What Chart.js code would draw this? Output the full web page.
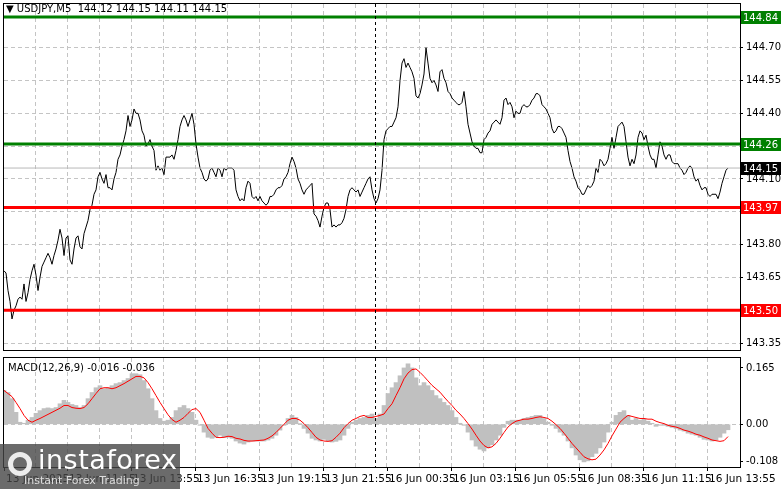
<!DOCTYPE html>
<html>
<head>
<meta charset="utf-8">
<script src="https://cdn.jsdelivr.net/npm/chart.js@4/dist/chart.umd.min.js"></script>
<style>
  html, body { margin: 0; padding: 0; background: #fff; }
  body { width: 781px; height: 489px; position: relative; overflow: hidden; font-family: "DejaVu Sans", sans-serif; }
  #priceBox { position: absolute; left: 0; top: -5px; width: 781px; height: 364px; }
  #macdBox { position: absolute; left: 0; top: 349px; width: 781px; height: 140px; }
  .hdr { position: absolute; font-size: 10px; color: #000; white-space: pre; }
  #logo { position: absolute; left: 0; top: 444px; width: 180px; height: 45px; background: rgba(70,70,70,0.8); color: #fff; }
  #logo .big { position: absolute; left: 38px; top: 0px; font-size: 27px; letter-spacing: 0.5px; }
  #logo .small { position: absolute; left: 24px; top: 30px; font-size: 11px; color: #ddd; }
  #logo .gear { position: absolute; left: 8px; top: 8px; width: 24px; height: 24px; border: 5px solid #eee; border-radius: 50%; box-sizing: border-box; }
</style>
</head>
<body>
<div id="priceBox"><canvas id="price"></canvas></div>
<div id="macdBox"><canvas id="macd"></canvas></div>
<div class="hdr" style="left:6px;top:3px;">▼ USDJPY,M5  144.12 144.15 144.11 144.15</div>
<div class="hdr" style="left:8px;top:362px;">MACD(12,26,9) -0.016 -0.036</div>
<div id="logo"><div class="gear"></div><div class="big">instaforex</div><div class="small">Instant Forex Trading</div></div>
<script>
// USDJPY M5 closes, one value per bar
const closes = [
  143.68,143.67,143.59,143.54,143.46,143.50,143.52,143.55,143.56,143.55,
  143.62,143.54,143.58,143.64,143.68,143.71,143.66,143.59,143.65,143.70,
  143.72,143.74,143.76,143.74,143.71,143.75,143.78,143.82,143.87,143.83,
  143.75,143.83,143.84,143.73,143.71,143.78,143.83,143.84,143.79,143.78,
  143.85,143.88,143.91,143.96,143.98,144.03,144.05,144.11,144.13,144.10,
  144.08,144.12,144.06,144.06,144.05,144.10,144.13,144.19,144.21,144.25,
  144.28,144.32,144.39,144.34,144.37,144.42,144.40,144.40,144.37,144.32,
  144.30,144.25,144.26,144.28,144.25,144.23,144.14,144.16,144.14,144.15,
  144.12,144.20,144.20,144.20,144.21,144.19,144.23,144.28,144.34,144.37,
  144.39,144.37,144.34,144.37,
  144.40,144.35,144.26,144.20,144.15,144.13,144.10,144.09,144.10,144.14,
  144.15,144.13,144.11,144.15,144.14,144.11,144.15,144.14,144.15,144.15,
  144.15,144.14,144.05,144.02,144.00,144.01,144.00,144.06,144.09,144.08,
  144.02,144.01,144.02,144.00,144.02,144.00,143.99,143.98,143.99,144.02,
  144.02,144.03,144.05,144.06,144.06,144.07,144.10,144.11,144.13,144.17,
  144.20,144.18,144.15,144.10,144.08,144.05,144.03,144.05,144.06,144.07,
  144.08,143.94,143.93,143.91,143.88,143.93,143.97,143.99,143.99,143.96,
  143.88,143.89,143.88,143.89,143.89,143.90,143.92,143.96,144.02,144.05,
  144.06,144.05,144.04,144.05,144.02,144.04,144.06,144.08,144.10,144.11,
  144.05,144.01,
  143.99,144.01,144.05,144.14,144.28,144.32,144.33,144.34,144.34,144.36,
  144.38,144.43,144.55,144.63,144.65,144.61,144.63,144.61,144.59,144.56,
  144.48,144.47,144.49,144.53,144.58,144.70,144.63,144.56,144.54,144.55,
  144.53,144.50,144.59,144.60,144.56,144.54,144.50,144.49,144.47,144.46,
  144.45,144.44,144.44,144.45,144.50,144.43,144.35,144.31,144.27,144.25,
  144.24,144.24,144.22,144.22,144.28,144.29,144.31,144.32,144.35,144.36,
  144.37,144.36,144.35,144.38,144.46,144.47,144.44,144.45,144.43,144.38,
  144.41,144.40,144.40,144.43,144.44,144.43,144.43,144.44,144.46,144.47,
  144.49,144.49,144.48,144.44,144.43,144.42,144.40,144.38,144.33,144.31,
  144.32,144.34,
  144.34,144.33,144.31,144.29,144.23,144.18,144.15,144.11,144.09,144.06,
  144.05,144.03,144.03,144.05,144.07,144.06,144.07,144.09,144.15,144.13,
  144.19,144.18,144.16,144.17,144.19,144.24,144.29,144.24,144.29,144.34,
  144.35,144.36,144.34,144.27,144.20,144.16,144.19,144.17,144.21,144.29,
  144.32,144.31,144.28,144.30,144.25,144.21,144.19,144.19,144.15,144.21,
  144.27,144.25,144.21,144.19,144.21,144.21,144.18,144.17,144.17,144.17,
  144.15,144.14,144.12,144.13,144.15,144.16,144.15,144.11,144.09,144.10,
  144.07,144.05,144.06,144.06,144.03,144.02,144.03,144.03,144.03,144.01,
  144.04,144.08,144.11,144.14,144.15
];

// MACD main (histogram) and signal, one value per two bars
const macdHist = [
  0.099,0.093,0.075,0.035,0.006,0.003,0.012,0.020,0.032,0.040,
  0.046,0.048,0.046,0.049,0.060,0.070,0.064,0.058,0.055,0.049,
  0.055,0.075,0.093,0.107,0.113,0.104,0.107,0.113,0.119,0.122,
  0.128,0.134,0.148,0.148,0.145,0.128,0.104,0.075,0.040,0.017,
  0.009,0.012,0.020,0.040,0.049,0.055,0.046,0.035,0.012,-0.003,
  -0.023,-0.038,-0.041,-0.038,-0.032,-0.038,-0.038,-0.041,-0.049,-0.055,
  -0.058,-0.052,-0.049,-0.049,-0.049,-0.049,-0.046,-0.041,-0.032,-0.017,
  -0.003,0.017,0.026,0.020,0.002,-0.012,-0.026,-0.041,-0.046,-0.049,
  -0.044,-0.049,-0.052,-0.050,-0.046,-0.032,-0.012,0.006,0.012,0.017,
  0.020,0.026,0.030,0.017,0.030,0.055,0.090,0.107,0.122,0.142,
  0.165,0.177,0.165,0.136,0.113,0.122,0.113,0.099,0.084,0.075,
  0.064,0.055,0.040,0.020,0.003,-0.003,-0.023,-0.046,-0.064,-0.073,
  -0.078,-0.069,-0.060,-0.046,-0.032,-0.009,0.009,0.012,0.012,0.012,
  0.017,0.020,0.023,0.026,0.026,0.017,0.006,-0.003,-0.012,-0.023,
  -0.032,-0.049,-0.069,-0.090,-0.104,-0.110,-0.107,-0.095,-0.085,-0.069,
  -0.052,-0.023,0.006,0.026,0.035,0.040,0.026,0.012,0.017,0.012,
  0.015,0.009,0.003,-0.006,-0.003,-0.003,-0.006,-0.009,-0.012,-0.017,
  -0.020,-0.026,-0.029,-0.032,-0.038,-0.044,-0.046,-0.049,-0.046,-0.038,
  -0.026,-0.016
];
const macdSignal = [
  0.099,0.090,0.081,0.064,0.046,0.026,0.012,0.006,0.012,0.017,
  0.023,0.029,0.035,0.041,0.047,0.055,0.055,0.049,0.047,0.046,
  0.049,0.060,0.075,0.090,0.104,0.107,0.107,0.104,0.107,0.113,
  0.119,0.126,0.133,0.140,0.140,0.136,0.122,0.104,0.084,0.064,
  0.046,0.028,0.014,0.006,0.012,0.020,0.032,0.043,0.046,0.035,
  0.012,-0.012,-0.026,-0.038,-0.039,-0.038,-0.035,-0.036,-0.041,-0.043,
  -0.047,-0.049,-0.049,-0.048,-0.047,-0.046,-0.041,-0.034,-0.024,-0.012,
  0.000,0.012,0.017,0.017,0.012,0.002,-0.010,-0.024,-0.038,-0.046,
  -0.049,-0.050,-0.048,-0.038,-0.026,-0.010,0.002,0.012,0.017,0.023,
  0.026,0.020,0.020,0.023,0.026,0.030,0.046,0.060,0.084,0.107,
  0.133,0.150,0.160,0.162,0.152,0.140,0.127,0.114,0.104,0.094,
  0.080,0.067,0.055,0.041,0.030,0.017,0.002,-0.014,-0.032,-0.049,
  -0.062,-0.069,-0.066,-0.056,-0.041,-0.024,-0.008,0.002,0.009,0.012,
  0.015,0.015,0.017,0.020,0.022,0.020,0.017,0.009,-0.001,-0.012,
  -0.026,-0.041,-0.056,-0.069,-0.082,-0.095,-0.101,-0.104,-0.102,-0.090,
  -0.075,-0.056,-0.034,-0.014,0.006,0.017,0.026,0.023,0.020,0.017,
  0.017,0.015,0.015,0.009,0.005,0.002,-0.003,-0.006,-0.008,-0.012,
  -0.017,-0.020,-0.024,-0.029,-0.032,-0.037,-0.041,-0.046,-0.048,-0.050,
  -0.048,-0.036
];

const priceTicks = [143.35, 143.50, 143.65, 143.80, 143.95, 144.10, 144.25, 144.40, 144.55, 144.70];
const macdTicks = [-0.108, 0, 0.165];
const levelValues = [144.84, 144.26, 143.97, 143.50];
const levelColors = ['#008000', '#008000', '#ff0000', '#ff0000'];
const lastPrice = 144.15;

const timeLabels = ['13 Jun 2025', '13 Jun 11:15', '13 Jun 13:55', '13 Jun 16:35', '13 Jun 19:15',
  '13 Jun 21:55', '16 Jun 00:35', '16 Jun 03:15', '16 Jun 05:55', '16 Jun 08:35', '16 Jun 11:15', '16 Jun 13:55'];
const timeLabelBars = [0, 31.5, 63.5, 95.5, 127.5, 159.5, 191.5, 223.5, 255.5, 287.5, 319.5, 351.5];
const gridBars = [15.5, 31.5, 47.5, 63.5, 79.5, 95.5, 111.5, 127.5, 143.5, 159.5, 175.5, 191.5,
  207.5, 223.5, 239.5, 255.5, 271.5, 287.5, 303.5, 319.5, 335.5, 351.5];
const sessionBreak = 185.5;
const barCount = 368;

const FONT = { family: 'DejaVu Sans', size: 10 };
const GRID = '#c4c4c4';

const xAxis = (extra) => Object.assign({
  type: 'linear', min: 0, max: barCount, offset: false,
  afterBuildTicks: ax => { ax.ticks = gridBars.map(v => ({ value: v })); },
  afterFit: s => { s.height = 0; },
  ticks: { display: false },
  grid: { color: GRID, drawTicks: false, offset: false },
  border: { display: false, dash: [4, 3] }
}, extra);

const framePlugin = {
  id: 'frame',
  afterDatasetsDraw(chart) {
    const { ctx, chartArea: a, scales } = chart;
    ctx.save();
    const sx = scales.x.getPixelForValue(sessionBreak);
    ctx.strokeStyle = '#000'; ctx.lineWidth = 1; ctx.setLineDash([3, 3]);
    ctx.beginPath(); ctx.moveTo(Math.round(sx) + 0.5, a.top); ctx.lineTo(Math.round(sx) + 0.5, a.bottom); ctx.stroke();
    ctx.setLineDash([]);
    ctx.strokeRect(a.left - 0.5, a.top - 0.5, a.right - a.left + 1, a.bottom - a.top + 1);
    ctx.restore();
  }
};

const labelBoxes = {
  id: 'labelBoxes',
  afterDraw(chart) {
    const { ctx, chartArea: a, scales } = chart;
    ctx.save();
    ctx.font = '10px "DejaVu Sans"';
    ctx.textBaseline = 'middle';
    const box = (v, bg) => {
      const y = Math.round(scales.y.getPixelForValue(v));
      ctx.fillStyle = bg;
      ctx.fillRect(a.right + 1, y - 6, 40, 13);
      ctx.fillStyle = '#fff';
      ctx.fillText(v.toFixed(2), a.right + 3, y + 1);
    };
    levelValues.forEach((v, i) => box(v, levelColors[i]));
    box(lastPrice, '#000');
    ctx.restore();
  }
};

const lineDs = (v, color, w) => ({
  type: 'line', data: [{ x: 0, y: v }, { x: barCount, y: v }],
  borderColor: color, borderWidth: w, pointRadius: 0
});

new Chart(document.getElementById('price'), {
  type: 'line',
  data: {
    datasets: [
      lineDs(lastPrice, '#b8b8b8', 1),
      ...levelValues.map((v, i) => lineDs(v, levelColors[i], 3)),
      { data: closes.map((c, i) => ({ x: i, y: c })), borderColor: '#000', borderWidth: 1, pointRadius: 0, tension: 0 }
    ]
  },
  options: {
    animation: false, responsive: true, maintainAspectRatio: false,
    layout: { padding: { left: 4, right: 0, top: 4, bottom: 2 } },
    plugins: { legend: { display: false }, tooltip: { enabled: false } },
    scales: {
      x: xAxis({}),
      y: {
        position: 'right', min: 143.318, max: 144.90,
        afterBuildTicks: ax => { ax.ticks = priceTicks.map(v => ({ value: v })); },
        afterFit: s => { s.width = 41; },
        ticks: { font: FONT, color: '#000', padding: 3, callback: v => v.toFixed(2) },
        grid: { color: GRID, tickColor: '#000', tickLength: 3, tickBorderDash: [] },
        border: { display: false, dash: [4, 3] }
      }
    }
  },
  plugins: [framePlugin, labelBoxes]
});

const xLabels = {
  id: 'xLabels',
  afterDraw(chart) {
    const { ctx, chartArea: a, scales } = chart;
    ctx.save();
    ctx.font = '10.5px "DejaVu Sans"';
    ctx.fillStyle = '#000';
    ctx.textBaseline = 'middle';
    timeLabels.forEach((t, i) => {
      const x = scales.x.getPixelForValue(timeLabelBars[i]);
      ctx.fillRect(Math.round(x), a.bottom + 1, 1, 3);
      ctx.fillText(t, x + 2, a.bottom + 12);
    });
    ctx.restore();
  }
};

new Chart(document.getElementById('macd'), {
  type: 'bar',
  data: {
    datasets: [
      { type: 'line', data: macdSignal.map((v, i) => ({ x: i * 2, y: v })), borderColor: '#ff0000', borderWidth: 1, pointRadius: 0, order: 0 },
      { type: 'bar', data: macdHist.map((v, i) => ({ x: i * 2, y: v })), backgroundColor: '#c0c0c0', barThickness: 4, order: 1 }
    ]
  },
  options: {
    animation: false, responsive: true, maintainAspectRatio: false,
    layout: { padding: { left: 4, right: 0, top: 2, bottom: 22 } },
    plugins: { legend: { display: false }, tooltip: { enabled: false } },
    scales: {
      x: xAxis({}),
      y: {
        position: 'right', min: -0.125, max: 0.194,
        afterBuildTicks: ax => { ax.ticks = macdTicks.map(v => ({ value: v })); },
        afterFit: s => { s.width = 41; },
        ticks: { font: FONT, color: '#000', padding: 3, callback: v => v === 0 ? '0.00' : String(v) },
        grid: { color: c => c.tick && c.tick.value === 0 ? GRID : 'rgba(0,0,0,0)', tickColor: '#000', tickLength: 3, tickBorderDash: [] },
        border: { display: false, dash: [4, 3] }
      }
    }
  },
  plugins: [framePlugin, xLabels]
});
</script>
</body>
</html>
